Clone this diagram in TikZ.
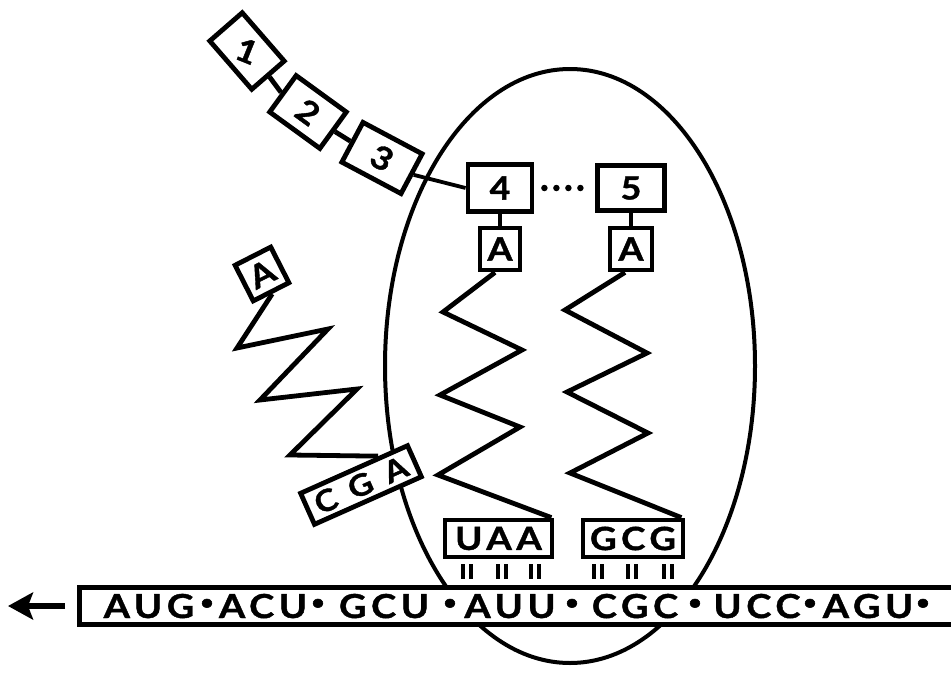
\documentclass[tikz,border=0pt]{standalone}
\usepackage{fontspec}
\setmainfont{Lato}
\newfontfamily\labfont[FakeStretch=1.12,FakeBold=1.2]{Lato}
\newfontfamily\codonfont[FakeStretch=1.15,FakeBold=1.2,LetterSpace=14]{Lato}
\newfontfamily\widefont[FakeStretch=1.12,FakeBold=1.2,LetterSpace=50]{Lato}
\usetikzlibrary{arrows.meta,calc,shapes.geometric}

\begin{document}
\begin{tikzpicture}[x=1pt,y=-1pt,
  ink/.style={line width=4.8pt, line join=miter, black},
  labbox/.style={draw, line width=4.8pt, fill=white, inner sep=0pt,
    font=\labfont\bfseries\fontsize{32}{32}\selectfont},
  codonbox/.style={labbox, font=\codonfont\bfseries\fontsize{32}{32}\selectfont},
  codon/.style={anchor=base, inner sep=0pt,
    font=\codonfont\bfseries\fontsize{33}{33}\selectfont},
  sep/.style={anchor=base, inner sep=0pt,
    font=\labfont\bfseries\fontsize{46}{46}\selectfont},
  pairbar/.style={line width=3.6pt},
]
\useasboundingbox (0,0) rectangle (951,691);
\clip (0,0) rectangle (951,691);

% ribosome body
\node[ellipse, draw, line width=4pt, inner sep=0pt,
      minimum width=370pt, minimum height=594pt] (ribosome) at (570,366) {};

% growing peptide chain
\node[labbox, minimum width=64pt, minimum height=43pt, rotate=-49] (b1) at (247,51) {\rotatebox{27}{1}};
\node[labbox, minimum width=62pt, minimum height=45pt, rotate=-36] (b2) at (308,112) {2};
\node[labbox, minimum width=67pt, minimum height=45pt, rotate=-28] (b3) at (382,158) {3};
\node[labbox, minimum width=64pt, minimum height=47pt] (b4) at (500,188) {4};
\node[labbox, minimum width=67pt, minimum height=45pt] (b5) at (631,188) {5};
\draw[ink] (b1.east) -- (b2.west);
\draw[ink] (b2.east) -- (b3.west);
\draw[line width=3.8pt] (b3.east) -- (b4.west);
\draw[line width=6.5pt, line cap=round, dash pattern=on 0pt off 12pt,
      shorten <=10pt, shorten >=8pt] (b4.east) -- (b5.west);

% tRNAs bound in the ribosome
\node[labbox, minimum width=40pt, minimum height=42pt] (a4) at (500,249) {A};
\node[labbox, minimum width=42pt, minimum height=42pt] (a5) at (631,249) {A};
\draw[ink] (b4.south) -- (a4.north);
\draw[ink] (b5.south) -- (a5.north);

\node[codonbox, minimum width=107pt, minimum height=37pt] (uaa) at (498.5,538.5) {UAA};
\node[codonbox, minimum width=100pt, minimum height=37pt] (gcg) at (633,538.5) {GCG};

\draw[ink] ([xshift=-5pt]a4.south) -- (443,312) -- (522,350) -- (440,395)
  -- (520,427) -- (438,475) -- ([xshift=-3pt]uaa.north east);
\draw[ink] ([xshift=-6pt]a5.south) -- (565,310) -- (647,353) -- (567,392)
  -- (648,433) -- (570,473) -- ([xshift=-4pt]gcg.north east);

% codon-anticodon pairing marks
\foreach \px in {467,502,535,598,632,668}{
  \draw[pairbar] (\px-3.8,564) -- (\px-3.8,579);
  \draw[pairbar] (\px+3.8,564) -- (\px+3.8,579);
}

% messenger RNA strand
\node[draw, fill=white, line width=4.8pt, inner sep=0pt, anchor=west,
      minimum width=1000pt, minimum height=37pt] (mrna) at (77,606) {};
\coordinate (tip) at (8,606);
\draw[line width=5.5pt, -{Stealth[length=25pt,width=27pt,inset=5pt]}]
  ([xshift=-12pt]mrna.west) -- (tip);

\node[codon] (c1) at (149,618) {AUG};
\node[sep]   (d1) at (207,617) {·};
\node[codon] (c2) at (263,618) {ACU};
\node[sep]   (d2) at (318,617) {·};
\node[codon] (c3) at (384,618) {GCU};
\node[sep]   (d3) at (450,617) {·};
\node[codon] (c4) at (510,618) {AUU};
\node[sep]   (d4) at (572,617) {·};
\node[codon] (c5) at (635,618) {CGC};
\node[sep]   (d5) at (695,617) {·};
\node[codon] (c6) at (757,618) {UCC};
\node[sep]   (d6) at (810,617) {·};
\node[codon] (c7) at (868,618) {AGU};
\node[sep]   (d7) at (923,617) {·};

% free tRNA leaving the ribosome
\node[labbox, minimum width=40pt, minimum height=40pt, rotate=27] (aL) at (262,274) {A};
\node[labbox, font=\widefont\bfseries\fontsize{30}{30}\selectfont,
      minimum width=117pt, minimum height=34pt, rotate=24] (cga) at (361,485) {CGA};
\draw[ink] (aL.south) -- (237,348) -- (328,329) -- (260,400) -- (357,389)
  -- (290,455) -- ($(cga.north)!0.45!(cga.north east)$);
\end{tikzpicture}
\end{document}
